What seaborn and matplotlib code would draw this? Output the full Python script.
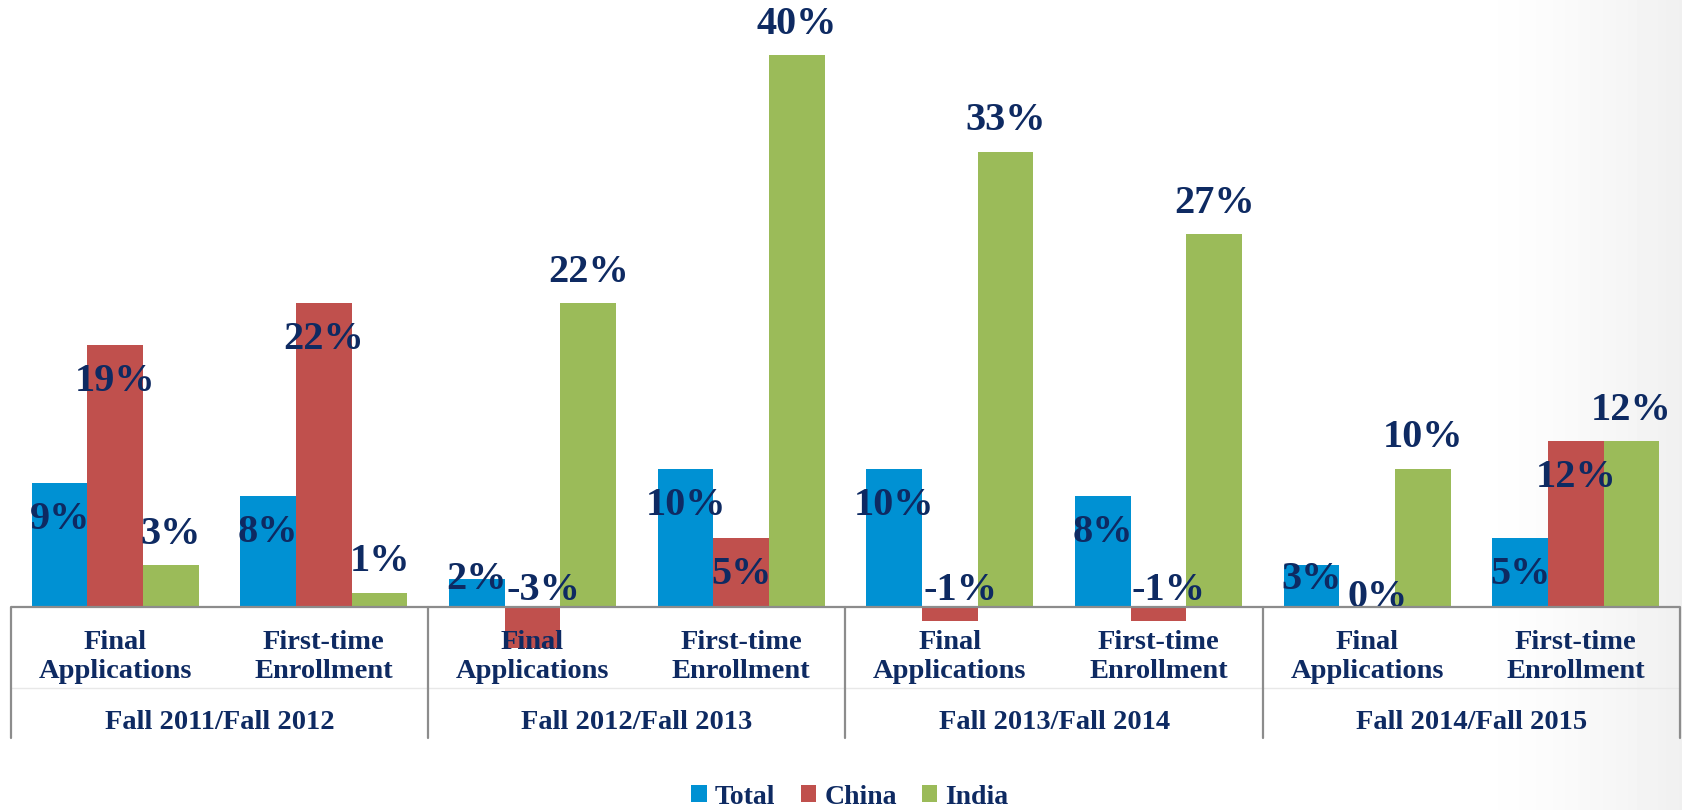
import numpy as np
import pandas as pd
import seaborn as sns
import matplotlib.pyplot as plt
from matplotlib.patches import Patch

# values (percent change)
groups = ['Fall 2011/Fall 2012', 'Fall 2012/Fall 2013', 'Fall 2013/Fall 2014', 'Fall 2014/Fall 2015']
metrics = ['Final\nApplications', 'First-time\nEnrollment']
series = ['Total', 'China', 'India']
total = [9, 8, 2, 10, 10, 8, 3, 5]
china = [19, 22, -3, 5, -1, -1, 0, 12]
india = [3, 1, 22, 40, 33, 27, 10, 12]
colors = ['#0091D3', '#C0504D', '#9BBB59']
navy = '#0E2A62'

sns.set_style('white')
plt.rcParams['font.family'] = ['Liberation Serif', 'DejaVu Serif']
plt.rcParams['font.weight'] = 'bold'

keys = [f'{g}|{m}' for g in groups for m in metrics]
df = pd.DataFrame({
    'key': keys * 3,
    'value': total + china + india,
    'series': np.repeat(series, len(keys)),
})

fig = plt.figure(figsize=(16.83, 8.10), dpi=100)

# faint slide shading on the right edge
bg = fig.add_axes([0, 0, 1, 1], zorder=-1)
xs = np.linspace(0, 1, 400)
shade = np.clip((xs - 0.87) / 0.13, 0, 1) ** 1.5 * 0.06
bg.imshow(np.tile(1 - shade, (10, 1)), cmap='gray', vmin=0, vmax=1, aspect='auto',
          extent=[0, 1, 0, 1])
bg.axis('off')

ax = fig.add_axes([11 / 1683, 155 / 810, 1669 / 1683, 655 / 810])
ax.patch.set_alpha(0)
sns.barplot(data=df, x='key', y='value', hue='series', order=keys, hue_order=series,
            palette=colors, width=0.8, linewidth=0, saturation=1, ax=ax, legend=False, errorbar=None)

ax.set_xlim(-0.5, len(keys) - 0.5)
ax.set_ylim(-3.5, 44)
for s in ax.spines.values():
    s.set_visible(False)
ax.set_xticks([])
ax.set_yticks([])
ax.set_xlabel('')
ax.set_ylabel('')

# data labels: Total / China inside end, India outside end
for si, cont in enumerate(ax.containers):
    for bar, v in zip(cont, df[df['series'] == series[si]]['value']):
        xc = bar.get_x() + bar.get_width() / 2
        if si == 2:
            y = v + 2.25
        elif v > 0:
            y = max(v - 2.65, 1.95)
        else:
            xc += 0.05
            y = 1.15 if v < 0 else 0.65
        ax.text(xc, y, f'{v:.0f}%', ha='center', va='center', fontsize=29,
                fontweight='bold', color=navy, clip_on=False)

# category axis
ax.axhline(0, color='#8C8C8C', lw=1.6, zorder=5)
ax.plot([-0.5, len(keys) - 0.5], [-5.9, -5.9], color='#E8E8E8', lw=1, clip_on=False)
for b in np.arange(0, len(keys) + 1, 2) - 0.5:
    ax.plot([b, b], [0, -9.5], color='#8C8C8C', lw=1.6, clip_on=False)
for i, k in enumerate(keys):
    ax.text(i, -3.65, k.split('|')[1], ha='center', va='center', fontsize=20.5,
            fontweight='bold', color=navy, linespacing=1.2, clip_on=False)
for j, g in enumerate(groups):
    ax.text(2 * j + 0.5, -8.4, g, ha='center', va='center', fontsize=20.5,
            fontweight='bold', color=navy, clip_on=False)

handles = [Patch(facecolor=c, edgecolor='none') for c in colors]
leg = fig.legend(handles, series, loc='center', bbox_to_anchor=(0.505, 0.016), ncol=3,
                 frameon=False, fontsize=20, handlelength=0.55, handleheight=0.55,
                 handletextpad=0.3, columnspacing=0.9)
for t in leg.get_texts():
    t.set_color(navy)
    t.set_fontweight('bold')

fig.savefig('out.png', dpi=100)
